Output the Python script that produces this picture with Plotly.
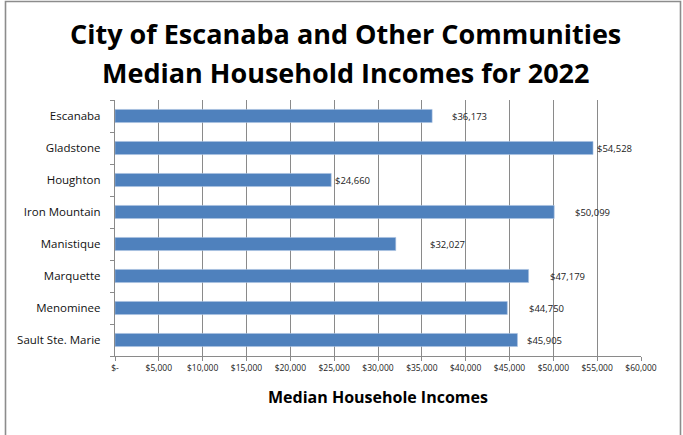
import plotly.graph_objects as go

# Median household incomes, 2022
communities = ["Escanaba", "Gladstone", "Houghton", "Iron Mountain",
               "Manistique", "Marquette", "Menominee", "Sault Ste. Marie"]
incomes = [36173, 54528, 24660, 50099, 32027, 47179, 44750, 45905]

tick_values = [0, 5000, 10000, 15000, 20000, 25000, 30000,
               35000, 40000, 45000, 50000, 55000, 60000]
tick_labels = ["$-", "$5,000", "$10,000", "$15,000", "$20,000", "$25,000",
               "$30,000", "$35,000", "$40,000", "$45,000", "$50,000",
               "$55,000", "$60,000"]

# horizontal nudge (px) of each value label away from its bar end
label_nudge = [18, 2, 2, 19, 32, 19, 20, 8]

FONT = "Open Sans"
GRID = "#8a8a8a"

W, H = 683, 435
ML, MR, MT, MB = 115, 42, 100, 79
PW, PH = W - ML - MR, H - MT - MB


def px_x(p):
    return (p - ML) / PW


def px_y(p):
    return (H - MB - p) / PH


fig = go.Figure()
fig.add_trace(go.Bar(
    x=incomes,
    y=communities,
    orientation="h",
    width=0.41,
    marker=dict(color="#4f81bd", line=dict(color="#a9c1e0", width=0.6)),
    hoverinfo="x+y",
))

annotations = []
for name, val, dx in zip(communities, incomes, label_nudge):
    annotations.append(dict(
        x=val, y=name, xref="x", yref="y",
        text=f"${val:,}", showarrow=False,
        xanchor="left", yanchor="middle", xshift=dx,
        font=dict(family=FONT, size=9.5, color="#222222"),
    ))

# two-line chart title
annotations.append(dict(
    x=px_x(345), y=px_y(33), xref="paper", yref="paper",
    text="<b>City of Escanaba and Other Communities</b>",
    showarrow=False, xanchor="center", yanchor="middle",
    font=dict(family=FONT, size=27, color="#000000"),
))
annotations.append(dict(
    x=px_x(345), y=px_y(72), xref="paper", yref="paper",
    text="<b>Median Household Incomes for 2022</b>",
    showarrow=False, xanchor="center", yanchor="middle",
    font=dict(family=FONT, size=27, color="#000000"),
))
# axis title
annotations.append(dict(
    x=0.5, y=px_y(397), xref="paper", yref="paper",
    text="<b>Median Househole Incomes</b>",
    showarrow=False, xanchor="center", yanchor="middle",
    font=dict(family=FONT, size=16, color="#000000"),
))

fig.update_layout(
    width=W, height=H,
    margin=dict(l=ML, r=MR, t=MT, b=MB, pad=0),
    paper_bgcolor="white",
    plot_bgcolor="white",
    showlegend=False,
    annotations=annotations,
    shapes=[dict(
        type="rect", xref="paper", yref="paper",
        x0=px_x(5.5), x1=px_x(680.5), y0=px_y(445), y1=px_y(1.5),
        line=dict(color="#8c8c8c", width=1.6), fillcolor="rgba(0,0,0,0)",
        layer="below",
    )],
    xaxis=dict(
        range=[0, 60000],
        tickvals=tick_values,
        ticktext=tick_labels,
        tickfont=dict(family=FONT, size=8.5, color="#222222"),
        showgrid=True, gridcolor=GRID, gridwidth=1.4,
        zeroline=False,
        showline=True, linecolor=GRID, linewidth=1.4,
        ticks="outside", ticklen=4, tickcolor=GRID, tickwidth=1.4,
        fixedrange=True,
    ),
    yaxis=dict(
        categoryorder="array",
        categoryarray=communities[::-1],
        tickfont=dict(family=FONT, size=11.5, color="#111111"),
        showgrid=False,
        showline=True, linecolor=GRID, linewidth=1.4,
        ticks="outside", ticklen=4, tickcolor=GRID, tickwidth=1.4,
        tickson="boundaries",
        ticklabelstandoff=11,
        fixedrange=True,
    ),
)

fig.write_html("out.html")
